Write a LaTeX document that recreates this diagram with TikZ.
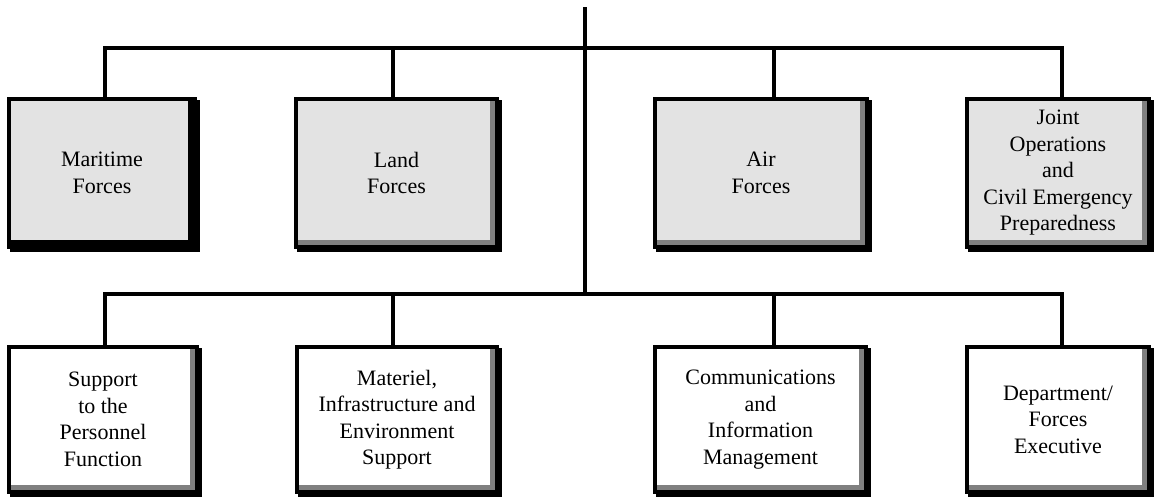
\documentclass[tikz,border=0pt]{standalone}
\usepackage{fontspec}
\setmainfont{Liberation Serif}
\definecolor{boxgray}{RGB}{227,227,227}
\definecolor{stripgray}{RGB}{128,128,128}
\usetikzlibrary{positioning}

\begin{document}
\begin{tikzpicture}[x=1pt, y=-1pt,
  unitbox/.style={draw, line width=4pt, align=center, inner sep=0pt,
    font=\fontsize{22}{26.5}\selectfont,
    preaction={draw=black, fill=black, line width=4pt, transform canvas={shift={(3pt,-3pt)}}},
    path picture={
      \fill[#1] ([xshift=-7pt]path picture bounding box.north east) rectangle (path picture bounding box.south east);
      \fill[#1] ([yshift=7pt]path picture bounding box.south west) rectangle (path picture bounding box.south east);
    }},
  unitbox/.default=stripgray,
  link/.style={line width=4pt}
]
  \useasboundingbox (0,0) rectangle (1154,499);

  % upper row
  \node[unitbox=black, fill=boxgray, minimum width=186pt, minimum height=148pt] (maritime) at (102,173) {Maritime\\Forces};
  \node[unitbox, fill=boxgray, minimum width=201pt, minimum height=148pt] (land) at (396.5,173) {Land\\Forces};
  \node[unitbox, fill=boxgray, minimum width=212pt, minimum height=148pt] (air) at (761,173) {Air\\Forces};
  \node[unitbox, fill=boxgray, minimum width=182pt, minimum height=148pt] (joint) at (1058,173) {Joint\\Operations\\and\\Civil Emergency\\Preparedness};

  % lower row
  \node[unitbox, fill=white, minimum width=188pt, minimum height=145pt] (personnel) at (103,419.5) {Support\\to the\\Personnel\\Function};
  \node[unitbox, fill=white, minimum width=200pt, minimum height=145pt] (materiel) at (397,419.5) {Materiel,\\Infrastructure and\\Environment\\Support};
  \node[unitbox, fill=white, minimum width=211pt, minimum height=145pt] (cim) at (760.5,419.5) {Communications\\and\\Information\\Management};
  \node[unitbox, fill=white, minimum width=182pt, minimum height=145pt] (executive) at (1058,419.5) {Department/\\Forces\\Executive};

  % connectors
  \coordinate (top) at (585,7);
  \coordinate (hub) at (585,294);
  \coordinate (u1) at (105,48);
  \coordinate (u2) at (393,48);
  \coordinate (u3) at (774,48);
  \coordinate (u4) at (1062,48);
  \coordinate (l1) at (105,294);
  \coordinate (l2) at (393,294);
  \coordinate (l3) at (774,294);
  \coordinate (l4) at (1062,294);

  \draw[link] (top) -- (hub);
  \draw[link] (u1 |- maritime.north) -- (u1) -- (u4) -- (u4 |- joint.north);
  \draw[link] (u2) -- (u2 |- land.north);
  \draw[link] (u3) -- (u3 |- air.north);
  \draw[link] (l1 |- personnel.north) -- (l1) -- (l4) -- (l4 |- executive.north);
  \draw[link] (l2) -- (l2 |- materiel.north);
  \draw[link] (l3) -- (l3 |- cim.north);
\end{tikzpicture}
\end{document}
